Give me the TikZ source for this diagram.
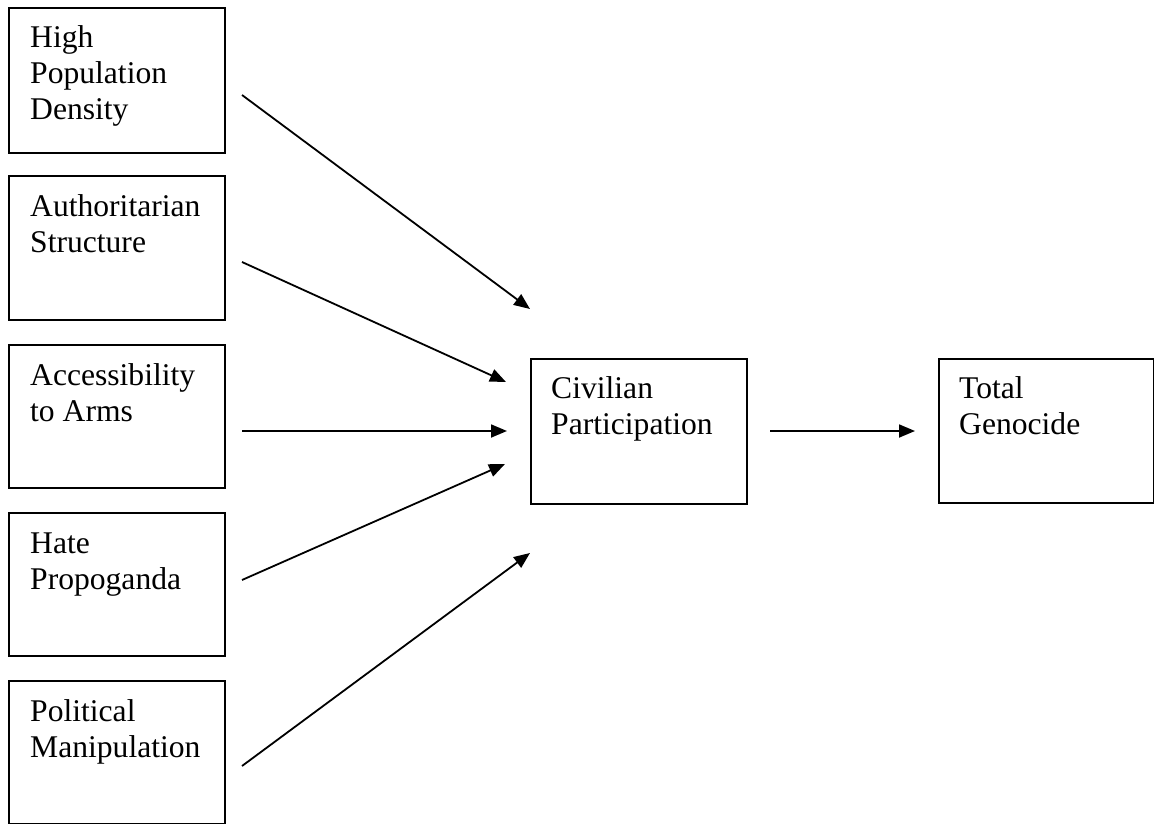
\documentclass[tikz,border=0pt]{standalone}
\usepackage{fontspec}
\setmainfont{Liberation Serif}
\usetikzlibrary{arrows.meta,calc}
\tikzset{
  box/.style={draw=black, line width=2pt, rectangle, inner sep=0pt, anchor=north west},
  txt/.style={inner sep=0pt, anchor=base west, font=\fontsize{31.6}{36}\selectfont},
  arr/.style={draw=black, line width=1.8pt, -{Triangle[length=16pt,width=13pt]}}
}
\newcommand{\boxtext}[1]{\begin{minipage}[t]{200pt}\raggedright #1\end{minipage}}
\begin{document}
\begin{tikzpicture}[x=1pt,y=-1pt]
\useasboundingbox (0,0) rectangle (1154,824);
% left boxes
\node[box, minimum width=216pt, minimum height=145pt] (b1) at (8,7) {};
\node[box, minimum width=216pt, minimum height=144pt] (b2) at (8,175) {};
\node[box, minimum width=216pt, minimum height=143pt] (b3) at (8,344) {};
\node[box, minimum width=216pt, minimum height=143pt] (b4) at (8,512) {};
\node[box, minimum width=216pt, minimum height=143pt] (b5) at (8,680) {};
\node[box, minimum width=216pt, minimum height=145pt] (civ) at (530,358) {};
\node[box, minimum width=215pt, minimum height=144pt] (tot) at (938,358) {};
% texts
\node[txt] (t1) at ($(b1.north west)+(22,41)$) {\boxtext{High\\Population\\Density}};
\node[txt] (t2) at ($(b2.north west)+(22,41)$) {\boxtext{Authoritarian\\Structure}};
\node[txt] (t3) at ($(b3.north west)+(22,41)$) {\boxtext{Accessibility\\to Arms}};
\node[txt] (t4) at ($(b4.north west)+(22,41)$) {\boxtext{Hate\\Propoganda}};
\node[txt] (t5) at ($(b5.north west)+(22,41)$) {\boxtext{Political\\Manipulation}};
\node[txt] (tc) at ($(civ.north west)+(21,40)$) {\boxtext{Civilian\\Participation}};
\node[txt] (tt) at ($(tot.north west)+(21,40)$) {\boxtext{Total\\Genocide}};
% connector end points
\coordinate (s1) at (242,95);
\coordinate (s2) at (242,262);
\coordinate (s3) at (242,431);
\coordinate (s4) at (242,580);
\coordinate (s5) at (242,766);
\coordinate (e1) at (530,309);
\coordinate (e2) at (506,382);
\coordinate (e3) at (507,431);
\coordinate (e4) at (505,464);
\coordinate (e5) at (530,553);
\coordinate (m1) at (770,431);
\coordinate (m2) at (915,431);
\draw[arr] (s1) -- (e1);
\draw[arr] (s2) -- (e2);
\draw[arr] (s3) -- (e3);
\draw[arr] (s4) -- (e4);
\draw[arr] (s5) -- (e5);
\draw[arr] (m1) -- (m2);
\end{tikzpicture}
\end{document}
